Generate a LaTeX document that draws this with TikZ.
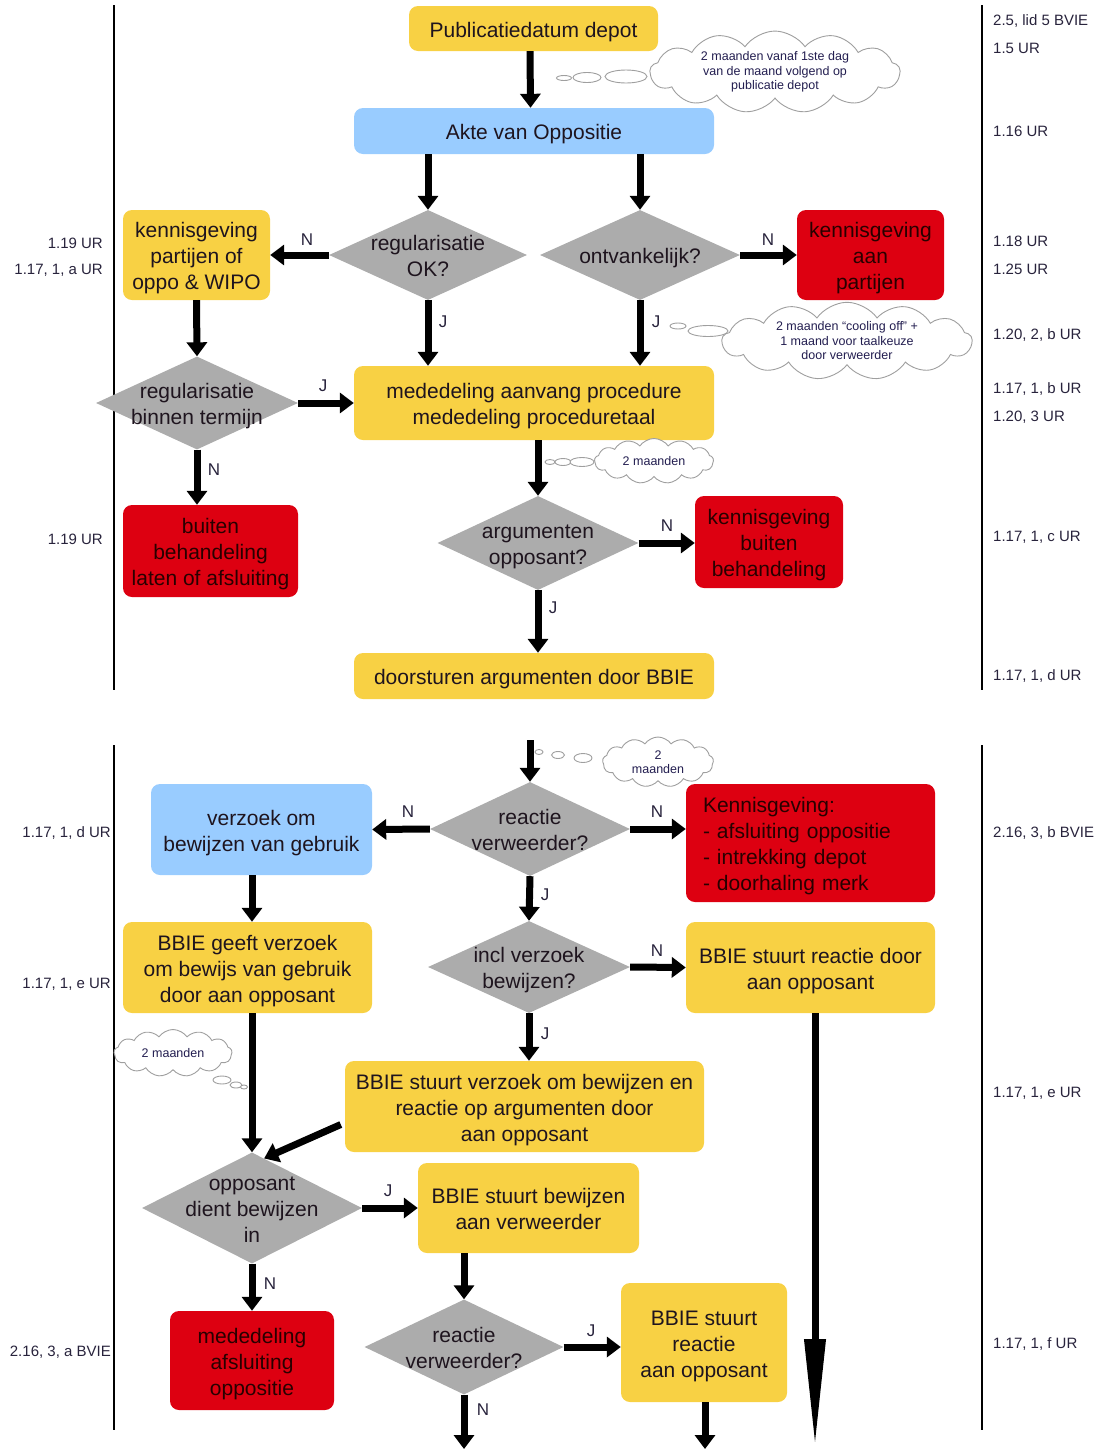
\documentclass[tikz,border=0pt]{standalone}
\usepackage{fontspec}
\setmainfont{Liberation Sans}
\usetikzlibrary{shapes.geometric,shapes.symbols,arrows.meta,calc}
\definecolor{cyel}{RGB}{248,209,68}
\definecolor{cblue}{RGB}{153,204,255}
\definecolor{cred}{RGB}{221,0,17}
\definecolor{cgray}{RGB}{172,172,172}
\definecolor{ctxt}{RGB}{30,20,30}
\definecolor{cside}{RGB}{40,35,60}
\newcommand\fs{\rule{0pt}{22pt}}
\tikzset{
  box/.style={rectangle, rounded corners=9pt, draw=none, align=center, inner sep=2pt,
    text=ctxt, font=\fontsize{21}{26}\selectfont,
    execute at begin node={\rule{0pt}{22pt}},
    execute at end node={\rule[-5pt]{0pt}{5pt}}},
  ybox/.style={box, fill=cyel},
  bbox/.style={box, fill=cblue},
  rbox/.style={box, fill=cred, text={rgb,255:red,40;green,0;blue,0}},
  dia/.style={diamond, fill=cgray, draw=none, inner sep=0pt},
  dtext/.style={align=center, text=ctxt, font=\fontsize{21}{26}\selectfont, inner sep=0pt,
    execute at begin node={\rule{0pt}{22pt}},
    execute at end node={\rule[-5pt]{0pt}{5pt}}},
  arr/.style={line width=7pt, -{Triangle[width=20pt,length=14pt]}},
  yn/.style={text=cside, font=\fontsize{17}{17}\selectfont, inner sep=0pt},
  sideL/.style={anchor=east, text=cside, font=\fontsize{15}{15}\selectfont, inner sep=0pt},
  sideR/.style={anchor=west, text=cside, font=\fontsize{15}{15}\selectfont, inner sep=0pt},
  thought/.style={cloud, cloud puffs=13, cloud puff arc=110, cloud ignores aspect,
    draw=gray!75, line width=0.9pt,
    fill=white, align=center, inner sep=0pt, text={rgb,255:red,35;green,30;blue,80},
    font=\fontsize{12.5}{14.5}\selectfont},
  bubble/.style={draw=gray!75, line width=0.9pt, fill=white},
  vline/.style={line width=1.1pt, black}
}
\begin{document}
\begin{tikzpicture}[x=1pt,y=-1pt]
\useasboundingbox (0,0) rectangle (1097,1449);
% frame lines
\draw[vline] (114,5) coordinate (l1a) -- (114,690) coordinate (l1b);
\draw[vline] (982,5) coordinate (r1a) -- (982,690) coordinate (r1b);
\draw[vline] (114,745) coordinate (l2a) -- (114,1430) coordinate (l2b);
\draw[vline] (982,745) coordinate (r2a) -- (982,1430) coordinate (r2b);

% ---------- top section ----------
\node[ybox, minimum width=249pt, minimum height=45pt] (pub) at (533.5,28.5) {Publicatiedatum depot};
\node[bbox, minimum width=360pt, minimum height=46pt] (akte) at (534,131) {Akte van Oppositie};
\node[dia, minimum width=198pt, minimum height=90pt] (d1) at (428,255) {};
\node[dtext] (d1t) at (d1.center) {\fs regularisatie\\OK?};
\node[dia, minimum width=200pt, minimum height=90pt] (d2) at (640,255) {};
\node[dtext] (d2t) at (d2.center) {ontvankelijk?};
\node[ybox, minimum width=147pt, minimum height=90pt] (kp) at (196.5,255) {\fs kennisgeving\\partijen of\\oppo \& WIPO};
\node[rbox, minimum width=147pt, minimum height=90pt] (kap) at (870.5,255) {\fs kennisgeving\\aan\\partijen};
\node[dia, minimum width=202pt, minimum height=93pt] (d3) at (197,403) {};
\node[dtext] (d3t) at (d3.center) {\fs regularisatie\\binnen termijn};
\node[ybox, minimum width=360pt, minimum height=74pt] (med) at (534,403) {\fs mededeling aanvang procedure\\mededeling proceduretaal};
\node[rbox, minimum width=175pt, minimum height=92pt] (bb) at (210.5,551) {\fs buiten\\behandeling\\laten of afsluiting};
\node[dia, minimum width=201pt, minimum height=94pt] (d4) at (538,543) {};
\node[dtext] (d4t) at (d4.center) {\fs argumenten\\opposant?};
\node[rbox, minimum width=148pt, minimum height=92pt] (kbb) at (769,542) {\fs kennisgeving\\buiten\\behandeling};
\node[ybox, minimum width=360pt, minimum height=46pt] (door) at (534,676) {doorsturen argumenten door BBIE};

% clouds top
\draw[bubble] (564,78) ellipse (7.5pt and 2.5pt);
\draw[bubble] (587,77.5) ellipse (14pt and 5pt);
\draw[bubble] (626,76.5) ellipse (21pt and 6.5pt);
\node[thought, minimum width=250pt, minimum height=70pt] (c1) at (775,72) {2 maanden vanaf 1ste dag\\van de maand volgend op\\publicatie depot};
\draw[bubble] (678,326) ellipse (8pt and 3pt);
\draw[bubble] (708,331) ellipse (20pt and 5.5pt);
\node[thought, minimum width=250pt, minimum height=60pt] (c2) at (847,341) {2 maanden ``cooling off'' +\\1 maand voor taalkeuze\\door verweerder};
\draw[bubble] (550,462) ellipse (5pt and 2.5pt);
\draw[bubble] (563,462) ellipse (8pt and 3.5pt);
\draw[bubble] (582,462) ellipse (12pt and 4.5pt);
\node[thought, minimum width=119pt, minimum height=45pt] (c3) at (654,461) {2 maanden};

% arrows top
\draw[arr] ([xshift=-3.5pt]pub.south) -- ([xshift=-3.5pt]akte.north);
\draw[arr] (akte.south -| d1.north) -- (d1.north);
\draw[arr] (akte.south -| d2.north) -- (d2.north);
\draw[arr] (d1.west) -- (kp.east);
\node[yn] (n1) at (307,240) {N};
\draw[arr] (d2.east) -- (kap.west);
\node[yn] (n2) at (768,240) {N};
\draw[arr] (d1.south) -- (d1.south |- med.north);
\node[yn] (j1) at (443,322) {J};
\draw[arr] (d2.south) -- (d2.south |- med.north);
\node[yn] (j2) at (656,322) {J};
\draw[arr] (kp.south) -- (d3.north);
\draw[arr] (d3.east) -- (med.west);
\node[yn] (j3) at (323,386) {J};
\draw[arr] (d3.south) -- (d3.south |- bb.north);
\node[yn] (n3) at (214,470) {N};
\draw[arr] (med.south -| d4.north) -- (d4.north);
\draw[arr] (d4.east) -- (d4.east -| kbb.west);
\node[yn] (n4) at (667,526) {N};
\draw[arr] (d4.south) -- (d4.south |- door.north);
\node[yn] (j4) at (553,608) {J};

% side labels top
\node[sideL] (s1) at (103,243) {1.19 UR};
\node[sideL] (s2) at (103,270) {1.17, 1, a UR};
\node[sideL] (s3) at (103,539) {1.19 UR};
\node[sideR] (s4) at (993,21) {2.5, lid 5 BVIE};
\node[sideR] (s5) at (993,48) {1.5 UR};
\node[sideR] (s6) at (993,131) {1.16 UR};
\node[sideR] (s7) at (993,241) {1.18 UR};
\node[sideR] (s8) at (993,269) {1.25 UR};
\node[sideR] (s9) at (993,335) {1.20, 2, b UR};
\node[sideR] (s10) at (993,389) {1.17, 1, b UR};
\node[sideR] (s11) at (993,417) {1.20, 3 UR};
\node[sideR] (s12) at (993,537) {1.17, 1, c UR};
\node[sideR] (s13) at (993,676) {1.17, 1, d UR};

% ---------- bottom section ----------
\coordinate (top2) at (530,740);
\node[dia, minimum width=200pt, minimum height=94pt] (d5) at (530,829) {};
\node[dtext] (d5t) at (d5.center) {\fs reactie\\verweerder?};
\node[bbox, minimum width=221pt, minimum height=91pt] (vz) at (261.5,829.5) {\fs verzoek om\\bewijzen van gebruik};
\node[rbox, text width=215pt, align=left, inner xsep=17pt, minimum height=118pt] (kg) at (810.5,843) {Kennisgeving:\\- afsluiting oppositie\\- intrekking depot\\- doorhaling merk};
\node[dia, minimum width=202pt, minimum height=92pt] (d6) at (529,967) {};
\node[dtext] (d6t) at (d6.center) {\fs incl verzoek\\bewijzen?};
\node[ybox, minimum width=249pt, minimum height=91pt] (bg) at (247.5,967.5) {\fs BBIE geeft verzoek\\om bewijs van gebruik\\door aan opposant};
\node[ybox, minimum width=249pt, minimum height=91pt] (brd) at (810.5,967.5) {\fs BBIE stuurt reactie door\\aan opposant};
\node[ybox, minimum width=359pt, minimum height=91pt] (bv) at (524.5,1106.5) {\fs BBIE stuurt verzoek om bewijzen en\\reactie op argumenten door\\aan opposant};
\node[dia, minimum width=220pt, minimum height=111pt] (d7) at (252,1208) {};
\node[dtext] (d7t) at (d7.center) {\fs opposant\\dient bewijzen\\in};
\node[ybox, minimum width=221pt, minimum height=90pt] (bbv) at (528.5,1208) {\fs BBIE stuurt bewijzen\\aan verweerder};
\node[rbox, minimum width=164pt, minimum height=99pt] (mao) at (252,1360.5) {\fs mededeling\\afsluiting\\oppositie};
\node[dia, minimum width=199pt, minimum height=95pt] (d8) at (464,1347) {};
\node[dtext] (d8t) at (d8.center) {\fs reactie\\verweerder?};
\node[ybox, minimum width=166pt, minimum height=119pt] (bra) at (704,1342.5) {\fs BBIE stuurt\\reactie\\aan opposant};
\coordinate (end1) at (464,1449);
\coordinate (end2) at (705,1449);
\coordinate (end3) at (815,1447);

% clouds bottom
\draw[bubble] (539,752) ellipse (4pt and 2.5pt);
\draw[bubble] (558,755) ellipse (6.5pt and 3.5pt);
\draw[bubble] (583,758) ellipse (9pt and 4.5pt);
\node[thought, minimum width=111pt, minimum height=50pt] (c4) at (658,762) {2\\maanden};
\draw[bubble] (222,1080) ellipse (9pt and 4pt);
\draw[bubble] (236,1085) ellipse (6pt and 3pt);
\draw[bubble] (244,1087) ellipse (3.5pt and 2pt);
\node[thought, minimum width=118pt, minimum height=47pt] (c5) at (173,1053) {2 maanden};

% arrows bottom
\draw[arr] (top2) -- (d5.north);
\draw[arr] (d5.west) -- (vz.east);
\node[yn] (n5) at (408,812) {N};
\draw[arr] (d5.east) -- (d5.east -| kg.west);
\node[yn] (n6) at (657,812) {N};
\draw[arr] (d5.south) -- (d6.north);
\node[yn] (j5) at (545,895) {J};
\draw[arr] (d6.east) -- (brd.west);
\node[yn] (n7) at (657,951) {N};
\draw[arr] (d6.south) -- (d6.south |- bv.north);
\node[yn] (j6) at (545,1034) {J};
\draw[arr] (vz.south -| d7.north) -- (d7.north |- bg.north);
\draw[arr] (bg.south -| d7.north) -- (d7.north);
\draw[arr] ([shift={(-4pt,-18pt)}]bv.west) -- ($(d7.north)!0.11!(d7.east)$);
\draw[arr] (d7.east) -- (bbv.west);
\node[yn] (j7) at (388,1191) {J};
\draw[arr] (d7.south) -- (mao.north);
\node[yn] (n8) at (270,1284) {N};
\draw[arr] (bbv.south -| d8.north) -- (d8.north);
\draw[arr] (d8.east) -- (d8.east -| bra.west);
\node[yn] (j8) at (591,1331) {J};
\draw[arr] (d8.south) -- (end1);
\node[yn] (n9) at (483,1410) {N};
\draw[arr] (bra.south -| end2) -- (end2);
\draw[line width=7pt, -{Triangle[width=20pt,length=108pt]}] (brd.south -| end3) -- (end3);

% side labels bottom
\node[sideL] (s14) at (111,833) {1.17, 1, d UR};
\node[sideL] (s15) at (111,984) {1.17, 1, e UR};
\node[sideL] (s16) at (111,1352) {2.16, 3, a BVIE};
\node[sideR] (s17) at (993,833) {2.16, 3, b BVIE};
\node[sideR] (s18) at (993,1093) {1.17, 1, e UR};
\node[sideR] (s19) at (993,1344) {1.17, 1, f UR};
\end{tikzpicture}
\end{document}
